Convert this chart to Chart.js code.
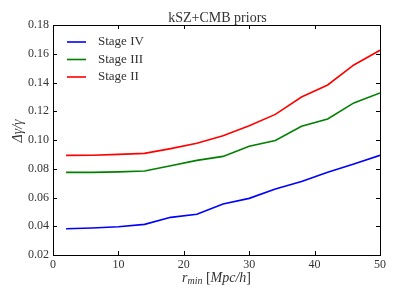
<!DOCTYPE html>
<html>
<head>
<meta charset="utf-8">
<script src="https://cdn.jsdelivr.net/npm/chart.js@4.4.0/dist/chart.umd.min.js"></script>
<style>
html,body{margin:0;padding:0;background:#fff;}
#wrap{width:399px;height:299px;position:relative;}
</style>
</head>
<body>
<div id="wrap"><canvas id="c" width="399" height="299"></canvas></div>
<script>
const rmin = [2, 6, 10, 14, 18, 22, 26, 30, 34, 38, 42, 46, 50];
const stageIV  = [0.0383, 0.0388, 0.0397, 0.0413, 0.0462, 0.0483, 0.0555, 0.0594, 0.0659, 0.0712, 0.0775, 0.0833, 0.0893];
const stageIII = [0.0775, 0.0775, 0.0778, 0.0784, 0.0821, 0.0858, 0.0886, 0.0956, 0.0997, 0.1095, 0.1146, 0.1258, 0.1327];
const stageII  = [0.0893, 0.0894, 0.0900, 0.0907, 0.0940, 0.0977, 0.1030, 0.1099, 0.1178, 0.1299, 0.1383, 0.1522, 0.1624];
const seriesNames = ['Stage IV', 'Stage III', 'Stage II'];
const xTicks = [0, 10, 20, 30, 40, 50];
const yTicks = [0.02, 0.04, 0.06, 0.08, 0.10, 0.12, 0.14, 0.16, 0.18];
const titleText = 'kSZ+CMB priors';

const SERIF = '"Liberation Serif", "DejaVu Serif", serif';

function pts(ys){ return rmin.map((x,i)=>({x:x,y:ys[i]})); }

const decor = {
  id:'decor',
  afterDraw(chart){
    const ctx = chart.ctx, a = chart.chartArea;
    const xs = chart.scales.x, ys = chart.scales.y;
    ctx.save();
    ctx.strokeStyle = '#000';
    ctx.lineWidth = 1;
    ctx.strokeRect(Math.round(a.left)+0.5, Math.round(a.top)+0.5, Math.round(a.right-a.left), Math.round(a.bottom-a.top));
    // inward ticks
    ctx.beginPath();
    xTicks.forEach(v=>{
      const px = Math.round(xs.getPixelForValue(v))+0.5;
      ctx.moveTo(px, a.bottom); ctx.lineTo(px, a.bottom-4);
      ctx.moveTo(px, a.top); ctx.lineTo(px, a.top+4);
    });
    yTicks.forEach(v=>{
      const py = Math.round(ys.getPixelForValue(v))+0.5;
      ctx.moveTo(a.left, py); ctx.lineTo(a.left+4, py);
      ctx.moveTo(a.right, py); ctx.lineTo(a.right-4, py);
    });
    ctx.stroke();
    // title
    ctx.fillStyle = '#333';
    ctx.font = '14px ' + SERIF;
    ctx.textAlign = 'center';
    ctx.textBaseline = 'alphabetic';
    const cx = (a.left + a.right)/2;
    ctx.fillText(titleText, cx + 1, a.top - 3);
    // x label: r_min [Mpc/h]
    const parts = [
      {t:'r', f:'italic 14px ' + SERIF, dy:0},
      {t:'min', f:'italic 10px ' + SERIF, dy:2},
      {t:' [', f:'14px ' + SERIF, dy:0},
      {t:'Mpc/h', f:'italic 14px ' + SERIF, dy:0},
      {t:']', f:'14px ' + SERIF, dy:0}
    ];
    let total = 0;
    parts.forEach(p=>{ ctx.font = p.f; p.w = ctx.measureText(p.t).width; total += p.w; });
    let x0 = cx - total/2;
    ctx.textAlign = 'left';
    parts.forEach(p=>{ ctx.font = p.f; ctx.fillText(p.t, x0, 282 + p.dy); x0 += p.w; });
    // y label
    ctx.translate(22, 131);
    ctx.rotate(-Math.PI/2);
    ctx.textAlign = 'center';
    ctx.font = 'italic 14px ' + SERIF;
    ctx.fillText('\u0394\u03b3/\u03b3', 0, 0);
    ctx.restore();
  }
};

new Chart(document.getElementById('c'), {
  type:'line',
  data:{
    datasets:[
      {label:seriesNames[0], data:pts(stageIV), borderColor:'#0000ff', backgroundColor:'#0000ff'},
      {label:seriesNames[1], data:pts(stageIII), borderColor:'#008000', backgroundColor:'#008000'},
      {label:seriesNames[2], data:pts(stageII), borderColor:'#ff0000', backgroundColor:'#ff0000'}
    ]
  },
  options:{
    responsive:false,
    animation:false,
    devicePixelRatio:1,
    layout:{padding:{left:0, right:19, top:25, bottom:0}},
    elements:{
      line:{borderWidth:1.6, tension:0, fill:false},
      point:{radius:0, hoverRadius:0}
    },
    plugins:{
      legend:{display:false},
      tooltip:{enabled:false},
      title:{display:false}
    },
    scales:{
      x:{
        type:'linear', min:0, max:50,
        afterBuildTicks(s){ s.ticks = xTicks.map(v=>({value:v})); },
        afterFit(s){ s.height = 44; },
        grid:{display:false, drawTicks:false},
        border:{display:false},
        ticks:{color:'#333', padding:3, font:{family:SERIF, size:12}, maxRotation:0,
          callback:(v)=>String(v)}
      },
      y:{
        type:'linear', min:0.02, max:0.18,
        afterBuildTicks(s){ s.ticks = yTicks.map(v=>({value:v})); },
        afterFit(s){ s.width = 53; },
        grid:{display:false, drawTicks:false},
        border:{display:false},
        ticks:{color:'#333', padding:4, font:{family:SERIF, size:12},
          callback:(v)=>Number(v).toFixed(2)}
      }
    }
  },
  plugins:[decor, {
    id:'legendInside',
    afterDatasetsDraw(chart){
      const ctx = chart.ctx, a = chart.chartArea;
      ctx.save();
      ctx.font = '13px ' + SERIF;
      ctx.textBaseline = 'middle';
      ctx.textAlign = 'left';
      chart.data.datasets.forEach((d,i)=>{
        const y = a.top + 17 + i*17.5;
        ctx.strokeStyle = d.borderColor;
        ctx.lineWidth = 1.6;
        ctx.beginPath();
        ctx.moveTo(a.left + 14, y); ctx.lineTo(a.left + 33, y);
        ctx.stroke();
        ctx.fillStyle = '#333';
        ctx.fillText(d.label, a.left + 45, y);
      });
      ctx.restore();
    }
  }]
});
</script>
</body>
</html>
